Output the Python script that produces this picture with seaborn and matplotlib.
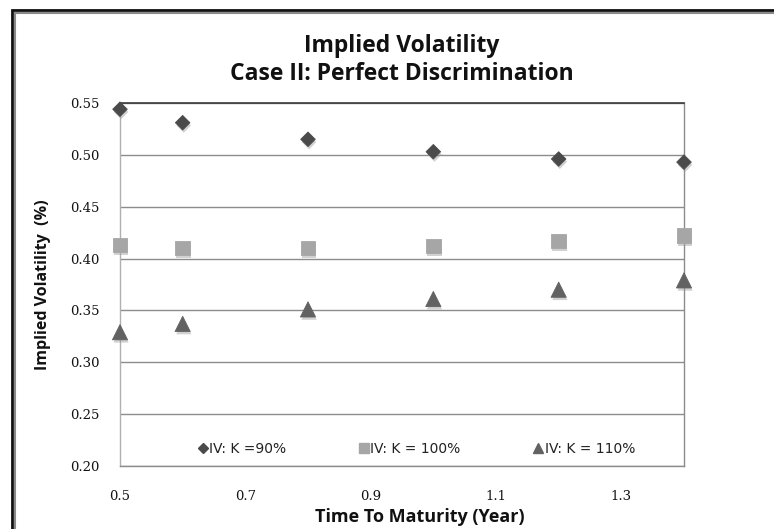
import matplotlib
matplotlib.use("Agg")
import matplotlib.pyplot as plt
import matplotlib.patheffects as pe
from matplotlib.lines import Line2D
from matplotlib.patches import Rectangle
import seaborn as sns
import pandas as pd

# ---- data ----
maturity = [0.5, 0.6, 0.8, 1.0, 1.2, 1.4]
iv_k90 = [0.544, 0.531, 0.515, 0.503, 0.496, 0.493]
iv_k100 = [0.413, 0.410, 0.410, 0.412, 0.417, 0.422]
iv_k110 = [0.329, 0.337, 0.351, 0.361, 0.370, 0.379]
series_labels = ["IV: K =90%", "IV: K = 100%", "IV: K = 110%"]
x_ticks = [0.5, 0.7, 0.9, 1.1, 1.3]
y_ticks = [0.20, 0.25, 0.30, 0.35, 0.40, 0.45, 0.50, 0.55]
title_text = "Implied Volatility\nCase II: Perfect Discrimination"
x_label = "Time To Maturity (Year)"
y_label = "Implied Volatility  (%)"

sns.set_theme(style="white")
plt.rcParams["font.family"] = ["Open Sans", "DejaVu Sans"]

W, H = 774, 529
fig = plt.figure(figsize=(W / 100, H / 100), dpi=100)
left, right, top, bottom = 120, 684, 103, 466
ax = fig.add_axes([left / W, 1 - bottom / H, (right - left) / W, (bottom - top) / H])

df = pd.DataFrame({
    "t": maturity * 3,
    "iv": iv_k90 + iv_k100 + iv_k110,
    "series": [series_labels[0]] * len(maturity) + [series_labels[1]] * len(maturity)
              + [series_labels[2]] * len(maturity),
})

styles = {
    series_labels[0]: dict(marker="D", color="#4a4a4a", s=55),
    series_labels[1]: dict(marker="s", color="#a6a6a6", s=110),
    series_labels[2]: dict(marker="^", color="#626262", s=120),
}
shadow = [pe.SimplePatchShadow(offset=(0.8, -2.0), shadow_rgbFace="#9a9a9a", alpha=0.45), pe.Normal()]
for lab in series_labels:
    st = styles[lab]
    sub = df[df["series"] == lab]
    sns.scatterplot(data=sub, x="t", y="iv", ax=ax, marker=st["marker"], color=st["color"],
                    s=st["s"], edgecolor=st["color"], linewidth=0.6, legend=False, zorder=5,
                    clip_on=False)
for coll in ax.collections:
    coll.set_path_effects(shadow)

ax.set_xlim(0.5, 1.4)
ax.set_ylim(0.20, 0.55)
ax.set_xticks(x_ticks)
ax.set_xticklabels([f"{v:.1f}" for v in x_ticks])
ax.set_yticks(y_ticks)
ax.set_yticklabels([f"{v:.2f}" for v in y_ticks])
ax.yaxis.grid(True, color="#8c8c8c", linewidth=1.0)
ax.xaxis.grid(False)
ax.set_axisbelow(True)
ax.tick_params(axis="both", length=0, labelsize=9.5, colors="#111111")
ax.tick_params(axis="y", pad=14.5)
ax.tick_params(axis="x", pad=17)
for t in ax.get_xticklabels() + ax.get_yticklabels():
    t.set_family(["DejaVu Serif"])

ax.spines["top"].set_color("#3a3a3a")
ax.spines["top"].set_linewidth(1.2)
ax.spines["left"].set_color("#b0b0b0")
ax.spines["left"].set_linewidth(1.0)
ax.spines["right"].set_color("#8c8c8c")
ax.spines["right"].set_linewidth(1.0)
ax.spines["bottom"].set_color("#8c8c8c")
ax.spines["bottom"].set_linewidth(1.0)

ax.set_xlabel(x_label, fontsize=13, fontweight="bold", color="#111111")
ax.xaxis.set_label_coords((420 - left) / (right - left), -(517 - bottom) / (bottom - top))
ax.xaxis.label.set_va("center")
ax.set_ylabel(y_label, fontsize=11.5, fontweight="bold", color="#111111", labelpad=14)
ax.set_title(title_text, fontsize=16.5, fontweight="bold", color="#111111", pad=16.5,
             linespacing=1.2)

handles = [Line2D([], [], linestyle="none", marker=styles[l]["marker"], color=styles[l]["color"],
                  markersize=ms) for l, ms in zip(series_labels, [5, 6.5, 7])]
leg = ax.legend(handles, series_labels, ncol=3, loc="center", bbox_to_anchor=(0.525, 0.047),
                frameon=False, prop={"family": ["DejaVu Sans"], "size": 10},
                handletextpad=0.05, columnspacing=5.2, handlelength=0.8, borderaxespad=0)
for t in leg.get_texts():
    t.set_color("#222222")

# outer double frame (open to the right and bottom)
fig.patches.append(Rectangle((11.5 / W, -0.1), 2.0, 1.1 - 10.0 / H, transform=fig.transFigure,
                             fill=False, edgecolor="#111111", linewidth=2.0))
fig.patches.append(Rectangle((14.5 / W, -0.1), 2.0, 1.1 - 13.0 / H, transform=fig.transFigure,
                             fill=False, edgecolor="#8a8a8a", linewidth=1.5))

fig.savefig("out.png", dpi=100)
